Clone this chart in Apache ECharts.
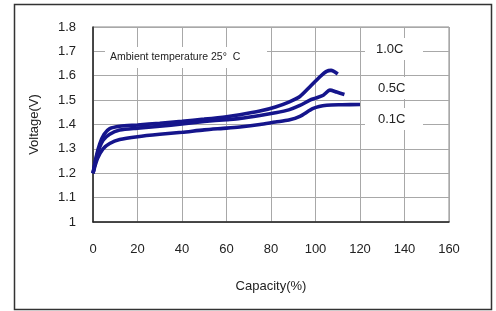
<!DOCTYPE html>
<html>
<head>
<meta charset="utf-8">
<script src="https://cdn.jsdelivr.net/npm/echarts@6/dist/echarts.min.js"></script>
<style>html,body{margin:0;padding:0;background:#fff}#c{width:496px;height:311px}</style>
</head>
<body>
<div id="c"></div>
<script>
const xTicks = [0, 20, 40, 60, 80, 100, 120, 140, 160];
const yTicks = [1, 1.1, 1.2, 1.3, 1.4, 1.5, 1.6, 1.7, 1.8];
const seriesNames = ['1.0C', '0.5C', '0.1C'];

const cap10 = [0, 1.5, 3, 5, 7.5, 12, 20, 30, 40, 50, 60, 66, 75, 82, 88, 93, 97.5, 102, 105, 107, 110];
const volt10 = [1.2, 1.27, 1.32, 1.36, 1.383, 1.393, 1.398, 1.405, 1.413, 1.422, 1.432, 1.44, 1.455, 1.472, 1.492, 1.515, 1.555, 1.596, 1.618, 1.622, 1.607];

const cap05 = [0, 2, 4.5, 7.5, 12, 20, 30, 40, 50, 60, 66, 75, 82, 88, 93, 97.5, 100, 103.5, 106.5, 109.5, 113];
const volt05 = [1.2, 1.28, 1.335, 1.36, 1.377, 1.385, 1.393, 1.402, 1.412, 1.42, 1.425, 1.437, 1.448, 1.46, 1.478, 1.5, 1.508, 1.52, 1.541, 1.533, 1.523];

const cap01 = [0, 2, 4.5, 7.5, 12, 20, 30, 40, 50, 60, 66, 75, 82, 88, 93, 99, 105, 112, 120];
const volt01 = [1.2, 1.26, 1.3, 1.322, 1.338, 1.35, 1.36, 1.368, 1.378, 1.385, 1.39, 1.4, 1.41, 1.418, 1.433, 1.466, 1.479, 1.481, 1.482];

const annotation = 'Ambient temperature 25°  C';

function zip(xs, ys) { return xs.map((x, i) => [x, ys[i]]); }
const allSeries = [zip(cap10, volt10), zip(cap05, volt05), zip(cap01, volt01)];

const chart = echarts.init(document.getElementById('c'), null, {renderer: 'canvas'});
const font = 'Liberation Sans, Arial, sans-serif';
const lineColor = '#15158c';

chart.setOption({
  animation: false,
  backgroundColor: '#fff',
  grid: {left: 93, top: 27, width: 356, height: 195, show: true, borderColor: '#888', borderWidth: 1},
  xAxis: {
    type: 'value', min: xTicks[0], max: xTicks[xTicks.length - 1], interval: 20,
    name: 'Capacity(%)', nameLocation: 'middle', nameGap: 58,
    nameTextStyle: {fontSize: 13, color: '#222', fontFamily: font},
    axisLine: {show: true, lineStyle: {color: '#222', width: 1.5}},
    axisTick: {show: false},
    axisLabel: {fontSize: 13, color: '#222', fontFamily: font, margin: 21},
    splitLine: {show: true, lineStyle: {color: '#a8a8a8', width: 1}}
  },
  yAxis: {
    type: 'value', min: yTicks[0], max: yTicks[yTicks.length - 1], interval: 0.1,
    name: 'Voltage(V)', nameLocation: 'middle', nameGap: 52, nameRotate: 90,
    nameTextStyle: {fontSize: 13, color: '#222', fontFamily: font},
    axisLine: {show: true, lineStyle: {color: '#222', width: 1.5}},
    axisTick: {show: false},
    axisLabel: {fontSize: 13, color: '#222', fontFamily: font, margin: 17,
      formatter: v => String(+v.toFixed(1))},
    splitLine: {show: true, lineStyle: {color: '#a8a8a8', width: 1}}
  },
  series: allSeries.map((d, i) => ({
    name: seriesNames[i], type: 'line', data: d, showSymbol: false, smooth: 0.25,
    lineStyle: {color: lineColor, width: 3.6}, z: 3
  })),
  graphic: [
    {type: 'rect', shape: {x: 14.5, y: 4.5, width: 477, height: 305}, style: {fill: 'none', stroke: '#333', lineWidth: 1.5}, z: 1},
    {type: 'rect', shape: {x: 105, y: 47, width: 162, height: 21}, style: {fill: '#fff'}, z: 2},
    {type: 'text', x: 110, y: 57, style: {text: annotation, font: '10.5px ' + font, fill: '#222', textVerticalAlign: 'middle', verticalAlign: 'middle'}, z: 4},
    {type: 'rect', shape: {x: 365, y: 38, width: 58, height: 22}, style: {fill: '#fff'}, z: 2},
    {type: 'text', x: 376, y: 49, style: {text: seriesNames[0], font: '13px ' + font, fill: '#222', verticalAlign: 'middle', textVerticalAlign: 'middle'}, z: 4},
    {type: 'rect', shape: {x: 365, y: 77, width: 58, height: 22}, style: {fill: '#fff'}, z: 2},
    {type: 'text', x: 378, y: 88, style: {text: seriesNames[1], font: '13px ' + font, fill: '#222', verticalAlign: 'middle', textVerticalAlign: 'middle'}, z: 4},
    {type: 'rect', shape: {x: 365, y: 108, width: 58, height: 22}, style: {fill: '#fff'}, z: 2},
    {type: 'text', x: 378, y: 119, style: {text: seriesNames[2], font: '13px ' + font, fill: '#222', verticalAlign: 'middle', textVerticalAlign: 'middle'}, z: 4}
  ]
});
</script>
</body>
</html>
